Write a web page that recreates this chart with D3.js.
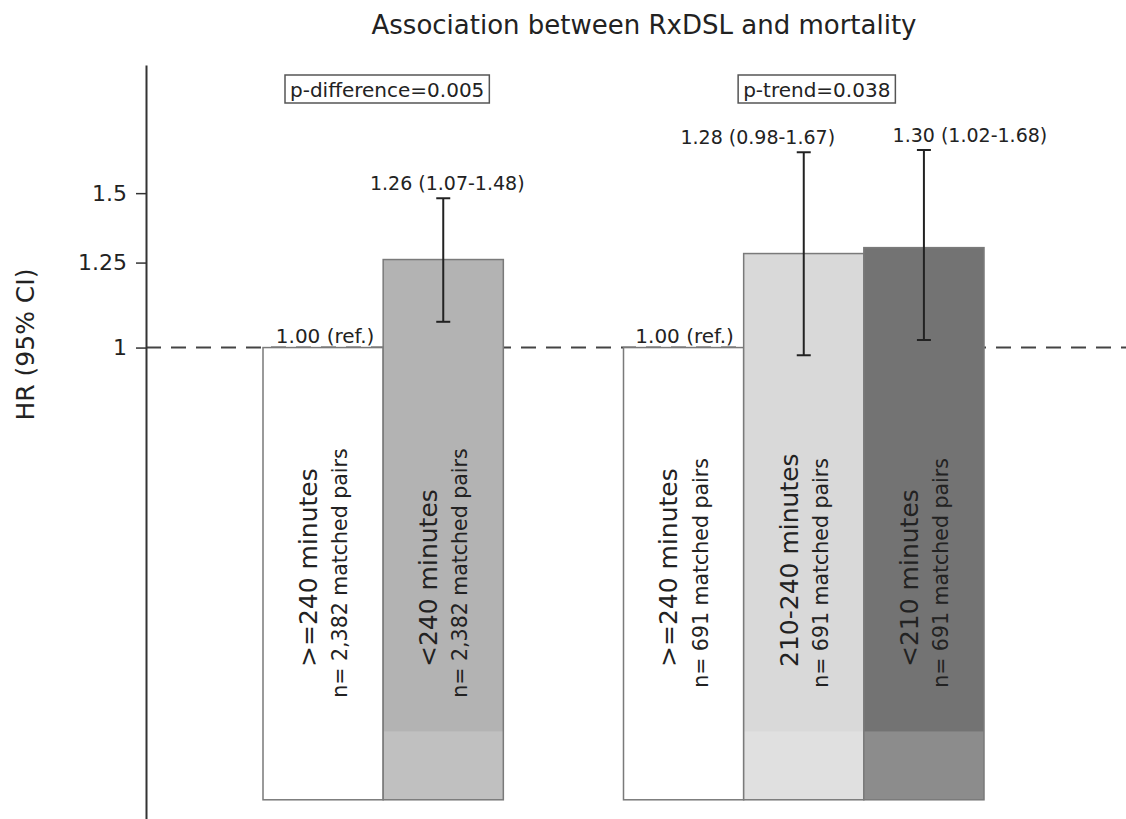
<!DOCTYPE html>
<html>
<head>
<meta charset="utf-8">
<script src="https://cdn.jsdelivr.net/npm/d3@7"></script>
<style>
  body { margin: 0; background: #fff; }
  text { font-family: "DejaVu Sans", sans-serif; fill: #222; }
</style>
</head>
<body>
<div id="chart"></div>
<script>
// ---- data ----
var title = "Association between RxDSL and mortality";
var yLabel = "HR (95% CI)";
var barIds = ["g1_ref", "g1_short", "g2_ref", "g2_mid", "g2_short"];
var slots = ["g1_ref", "g1_short", "gap", "g2_ref", "g2_mid", "g2_short"];
var durations = [">=240 minutes", "<240 minutes", ">=240 minutes", "210-240 minutes", "<210 minutes"];
var pairText = ["n= 2,382 matched pairs", "n= 2,382 matched pairs", "n= 691 matched pairs", "n= 691 matched pairs", "n= 691 matched pairs"];
var hr = [1.00, 1.26, 1.00, 1.28, 1.30];
var ciLow = [null, 1.07, null, 0.98, 1.02];
var ciHigh = [null, 1.48, null, 1.67, 1.68];
var hrText = ["1.00 (ref.)", "1.26 (1.07-1.48)", "1.00 (ref.)", "1.28 (0.98-1.67)", "1.30 (1.02-1.68)"];
var groups = [["g1_ref", "g1_short"], ["g2_ref", "g2_mid", "g2_short"]];
var pText = ["p-difference=0.005", "p-trend=0.038"];
var yTicks = [1, 1.25, 1.5];
var yTickText = ["1", "1.25", "1.5"];

// ---- styling ----
var fills = ["#ffffff", "#b3b3b3", "#ffffff", "#d9d9d9", "#737373"];
var labelShift = [2, 4, 1, -46, 46];
var pShift = [4, 13];

var W = 1126, H = 819;
var svg = d3.select("#chart").append("svg")
	.attr("width", W)
	.attr("height", H)
	.style("background", "#fff");

var x = d3.scaleBand().domain(slots).range([263, 984]);
var y = d3.scaleLog().domain([0.29, 2.1]).range([819, 65]);
var base = 0.305, shadeTop = 0.365;
var axisX = 146;

function cx(id) { return x(id) + x.bandwidth() / 2; }

// title
svg.append("text")
	.attr("x", 644).attr("y", 34)
	.attr("text-anchor", "middle")
	.style("font-size", "26px")
	.text(title);

// y label
svg.append("text")
	.attr("transform", "translate(25," + (y(1) - 3) + ") rotate(-90)")
	.attr("text-anchor", "middle")
	.attr("dy", "0.35em")
	.style("font-size", "25px")
	.text(yLabel);

// reference line at HR = 1
svg.append("line")
	.attr("x1", axisX).attr("x2", W)
	.attr("y1", y(1)).attr("y2", y(1))
	.attr("stroke", "#444")
	.attr("stroke-width", 2)
	.attr("stroke-dasharray", "15,10");

// bars
var bars = svg.append("g");
barIds.forEach(function(id, i) {
	bars.append("rect")
		.attr("x", x(id)).attr("width", x.bandwidth())
		.attr("y", y(hr[i])).attr("height", y(base) - y(hr[i]))
		.attr("fill", fills[i]);
	bars.append("rect")
		.attr("x", x(id)).attr("width", x.bandwidth())
		.attr("y", y(shadeTop)).attr("height", y(base) - y(shadeTop))
		.attr("fill", "#fff").attr("fill-opacity", 0.18);
	bars.append("rect")
		.attr("x", x(id)).attr("width", x.bandwidth())
		.attr("y", y(hr[i])).attr("height", y(base) - y(hr[i]))
		.attr("fill", "none")
		.attr("stroke", "#7a7a7a")
		.attr("stroke-width", 1.5);
});

// rotated labels inside bars
barIds.forEach(function(id, i) {
	svg.append("text")
		.attr("transform", "translate(" + (cx(id) - 15) + ",667) rotate(-90)")
		.attr("dy", "0.35em")
		.style("font-size", "25px")
		.text(durations[i]);
	svg.append("text")
		.attr("transform", "translate(" + (cx(id) + 17) + ",573) rotate(-90)")
		.attr("text-anchor", "middle")
		.attr("dy", "0.35em")
		.style("font-size", "20.5px")
		.text(pairText[i]);
});

// error bars
var eb = svg.append("g").attr("stroke", "#222").attr("stroke-width", 2);
barIds.forEach(function(id, i) {
	if (ciLow[i] == null) return;
	var c = cx(id);
	eb.append("line").attr("x1", c).attr("x2", c).attr("y1", y(ciLow[i])).attr("y2", y(ciHigh[i]));
	[ciLow[i], ciHigh[i]].forEach(function(v) {
		eb.append("line").attr("x1", c - 7).attr("x2", c + 7).attr("y1", y(v)).attr("y2", y(v));
	});
});

// HR labels
barIds.forEach(function(id, i) {
	var top = ciHigh[i] == null ? y(hr[i]) - 5 : y(ciHigh[i]) - 8;
	svg.append("text")
		.attr("x", cx(id) + labelShift[i])
		.attr("y", top)
		.attr("text-anchor", "middle")
		.style("font-size", ciHigh[i] == null ? "20px" : "19px")
		.text(hrText[i]);
});

// p-value boxes
groups.forEach(function(g, k) {
	var c = d3.mean(g, cx) + pShift[k];
	var t = svg.append("text")
		.attr("x", c).attr("y", 97)
		.attr("text-anchor", "middle")
		.style("font-size", "20px")
		.text(pText[k]);
	var bb = t.node().getBBox();
	svg.insert("rect", "text")
		.attr("x", bb.x - 5).attr("width", bb.width + 10)
		.attr("y", 75).attr("height", 28)
		.attr("fill", "none")
		.attr("stroke", "#555")
		.attr("stroke-width", 1.5);
});

// y axis
var ax = svg.append("g")
	.attr("transform", "translate(" + axisX + ",0)")
	.call(d3.axisLeft(y)
		.tickValues(yTicks)
		.tickFormat(function(d, i) { return yTickText[i]; })
		.tickSize(10)
		.tickSizeOuter(0)
		.tickPadding(9));
ax.attr("font-family", null).attr("font-size", null);
ax.select(".domain").attr("stroke", "#333").attr("stroke-width", 2);
ax.selectAll(".tick line").attr("stroke", "#333").attr("stroke-width", 1.5);
ax.selectAll(".tick text").style("font-size", "22px").attr("fill", "#333");
</script>
</body>
</html>
